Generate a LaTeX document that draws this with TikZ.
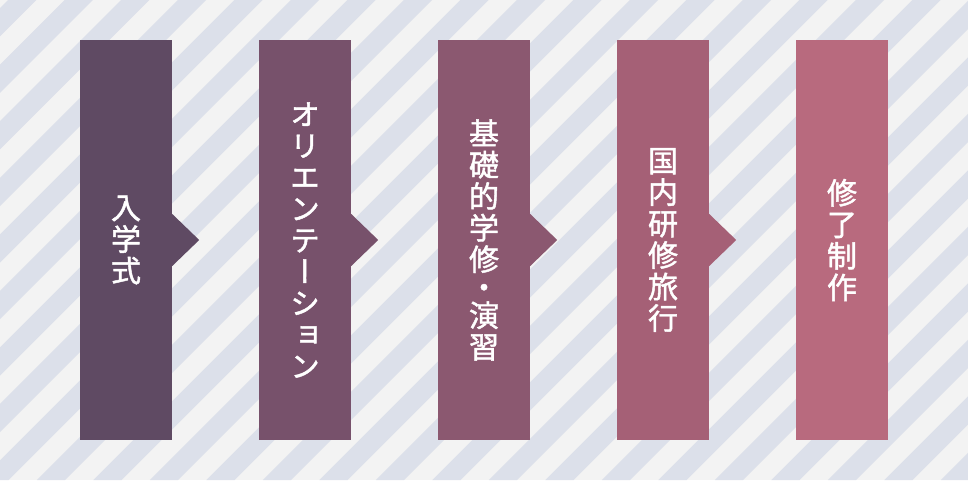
\documentclass[tikz,border=0pt]{standalone}
\usepackage{fontspec}
\newfontfamily\cjkv{Noto Sans CJK JP}[RawFeature=+vert, FakeBold=1.5]
\definecolor{bglight}{HTML}{F3F3F3}
\definecolor{bgstripe}{HTML}{DCE0EA}
\definecolor{stageA}{HTML}{5F4A63}
\definecolor{stageB}{HTML}{77516B}
\definecolor{stageC}{HTML}{8B5870}
\definecolor{stageD}{HTML}{A56076}
\definecolor{stageE}{HTML}{B86A7E}

\begin{document}
\begin{tikzpicture}[x=1pt,y=1pt,
    stage/.style={rectangle, minimum width=92pt, minimum height=400pt, inner sep=0pt,
      align=center, text=white, font=\cjkv\fontsize{30}{31.5}\selectfont}]
    \useasboundingbox (0,0) rectangle (968,480);
    % background stripes
    \fill[bglight] (0,0) rectangle (968,480);
    \begin{scope}
        \clip (0,0) rectangle (968,480);
        \foreach \k in {-2,...,26}
            \fill[bgstripe] ({64.75+56.5*\k},480) -- ++(28.25,0) -- ++(-480,-480) -- ++(-28.25,0) -- cycle;
    \end{scope}
    % stages
    \node[stage, fill=stageA] (nyu) at (126,240) {入\\学\\式};
    \node[stage, fill=stageB] (ori) at (305,240) {オ\\リ\\エ\\ン\\テ\\ー\\シ\\ョ\\ン};
    \node[stage, fill=stageC] (kiso) at (484,240) {基\\礎\\的\\学\\修\\[-3.5pt]・\\[-3.5pt]演\\習};
    \node[stage, fill=stageD] (kenshu) at (663,240) {国\\内\\研\\修\\旅\\行};
    \node[stage, fill=stageE] (seisaku) at (842,240) {修\\了\\制\\作};
    % arrow tips
    \fill[stageA] ([shift={(-1,27)}]nyu.east) -- ++(28,-27) -- ++(-28,-27) -- cycle;
    \fill[stageB] ([shift={(-1,27)}]ori.east) -- ++(28,-27) -- ++(-28,-27) -- cycle;
    \fill[stageC] ([shift={(-1,27)}]kiso.east) -- ++(28,-27) -- ++(-28,-27) -- cycle;
    \fill[stageD] ([shift={(-1,27)}]kenshu.east) -- ++(28,-27) -- ++(-28,-27) -- cycle;
\end{tikzpicture}
\end{document}
